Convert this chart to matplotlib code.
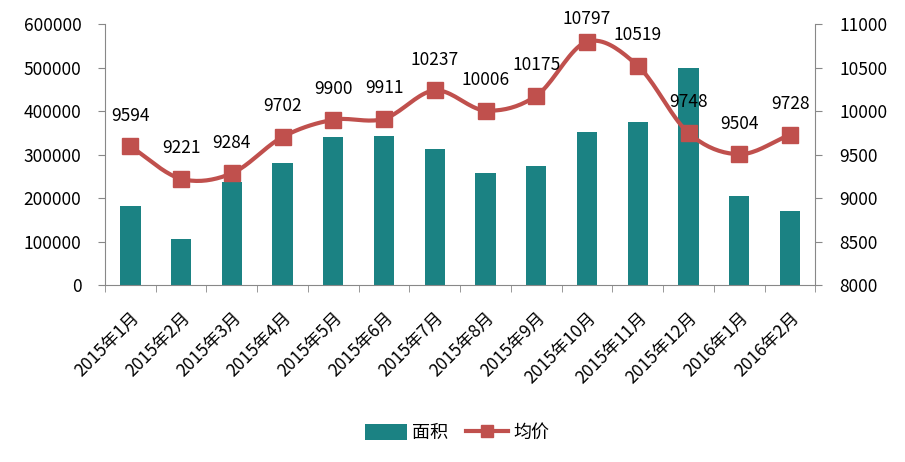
import numpy as np
import matplotlib
matplotlib.use("Agg")
import matplotlib.pyplot as plt
from matplotlib.lines import Line2D
from matplotlib.patches import Patch

plt.rcParams['font.family'] = ['Noto Sans CJK SC', 'DejaVu Sans']

categories = ["2015年1月", "2015年2月", "2015年3月", "2015年4月", "2015年5月", "2015年6月",
              "2015年7月", "2015年8月", "2015年9月", "2015年10月", "2015年11月", "2015年12月",
              "2016年1月", "2016年2月"]
area = [182000, 106000, 237000, 281000, 340000, 343000, 313000, 258000, 274000, 352000,
        375000, 499000, 205000, 170000]
price = [9594, 9221, 9284, 9702, 9900, 9911, 10237, 10006, 10175, 10797, 10519, 9748, 9504, 9728]

bar_color = "#1B8283"
line_color = "#C0504D"

fig = plt.figure(figsize=(9.05, 4.62), dpi=100)
ax = fig.add_axes([0.116, 0.383, 0.785, 0.565])
ax2 = ax.twinx()

x = np.arange(len(categories))
ax.bar(x, area, width=0.4, color=bar_color, zorder=2)
ax.set_ylim(0, 600000)
ax.set_yticks(np.arange(0, 600001, 100000))
ax.set_xlim(-0.5, len(categories) - 0.5)
ax.set_xticks(x)
ax.set_xticklabels(categories, rotation=45, ha='right', rotation_mode='anchor', fontsize=12.5)
ax.tick_params(axis='x', length=0, pad=17)
ax.set_xticks(np.arange(-0.5, len(categories), 1), minor=True)
ax.tick_params(axis='x', which='minor', length=5, color='#888888')
ax.tick_params(axis='y', labelsize=12.5, length=5, color='#888888', pad=12)

# smooth curve via Catmull-Rom through data points
def catmull(xs, ys, n=20):
    xs = np.asarray(xs, float); ys = np.asarray(ys, float)
    px = np.concatenate([[2*xs[0]-xs[1]], xs, [2*xs[-1]-xs[-2]]])
    py = np.concatenate([[2*ys[0]-ys[1]], ys, [2*ys[-1]-ys[-2]]])
    ox, oy = [], []
    for i in range(1, len(px)-2):
        t = np.linspace(0, 1, n, endpoint=False)
        for arr, out in ((px, ox), (py, oy)):
            p0, p1, p2, p3 = arr[i-1], arr[i], arr[i+1], arr[i+2]
            out.extend(0.5*((2*p1) + (-p0+p2)*t + (2*p0-5*p1+4*p2-p3)*t**2 + (-p0+3*p1-3*p2+p3)*t**3))
    ox.append(xs[-1]); oy.append(ys[-1])
    return np.array(ox), np.array(oy)

sx, sy = catmull(x, price)
ax2.plot(sx, sy, color=line_color, lw=3, zorder=3)
ax2.plot(x, price, 's', color=line_color, ms=11, zorder=4)
ax2.set_ylim(8000, 11000)
ax2.set_yticks(np.arange(8000, 11001, 500))
ax2.tick_params(axis='y', labelsize=12.5, length=5, color='#888888', pad=12)
for i, (xi, p) in enumerate(zip(x, price)):
    off = 10 if p == max(price) else 15.5
    ax2.annotate(str(p), (xi, p), xytext=(0, off), textcoords='offset points',
                 ha='center', va='bottom', fontsize=12.5)

for a in (ax, ax2):
    a.spines['top'].set_visible(False)
    for s in ('left', 'right', 'bottom'):
        a.spines[s].set_color('#888888')
ax.spines['right'].set_visible(False)
ax2.spines['left'].set_visible(False)
ax2.spines['bottom'].set_visible(False)

handles = [Patch(facecolor=bar_color, label='面积'),
           Line2D([0], [0], color=line_color, lw=3, marker='s', ms=9, label='均价')]
fig.legend(handles=handles, loc='center', bbox_to_anchor=(0.505, 0.063), ncol=2,
           frameon=False, fontsize=13, handlelength=2.3, handleheight=1.0,
           columnspacing=1.0, handletextpad=0.3)

fig.savefig("out.png", dpi=100)
